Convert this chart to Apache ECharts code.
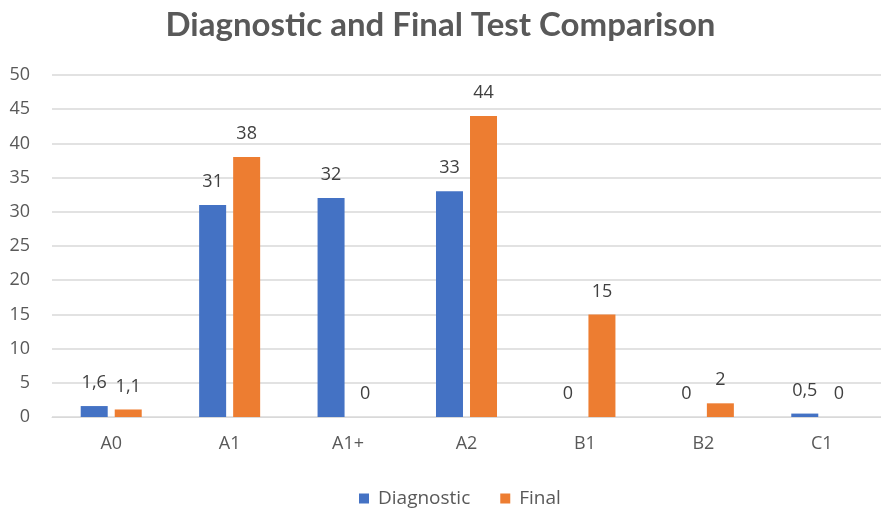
<!DOCTYPE html>
<html>
<head>
<meta charset="utf-8">
<script src="https://cdn.jsdelivr.net/npm/echarts@6/dist/echarts.min.js"></script>
<style>
  html, body { margin: 0; padding: 0; background: #fff; }
  #chart { width: 881px; height: 508px; }
</style>
</head>
<body>
<div id="chart"></div>
<script>
  // data
  const levels = ['A0', 'A1', 'A1+', 'A2', 'B1', 'B2', 'C1']
  const diagnostic = [1.6, 31, 32, 33, 0, 0, 0.5]
  const final = [1.1, 38, 0, 44, 15, 2, 0]
  const yTicks = [0, 5, 10, 15, 20, 25, 30, 35, 40, 45, 50]

  const labelFont = 'Open Sans'
  const textColor = '#595959'

  // decimal comma like the original
  const commaLabel = function (p) {
    return String(p.value).replace('.', ',')
  }

  const chart = echarts.init(document.getElementById('chart'))
  chart.setOption({
    animation: false,
    title: {
      text: 'Diagnostic and Final Test Comparison',
      left: 'center',
      top: 4,
      textStyle: {
        fontFamily: 'Lato',
        fontWeight: 'bold',
        fontSize: 33,
        color: textColor
      }
    },
    legend: {
      top: 484,
      left: 354,
      itemWidth: 10,
      itemHeight: 10,
      itemGap: 30,
      icon: 'rect',
      textStyle: { fontFamily: labelFont, fontSize: 19, color: textColor, padding: [0, 0, 0, 4] },
      data: ['Diagnostic', 'Final']
    },
    grid: {
      left: 52,
      right: -7,
      top: 75,
      bottom: 91
    },
    xAxis: {
      type: 'category',
      data: levels,
      axisLine: { lineStyle: { color: '#d9d9d9' } },
      axisTick: { show: false },
      axisLabel: { fontFamily: labelFont, fontSize: 18, color: textColor, margin: 18 }
    },
    yAxis: {
      type: 'value',
      min: yTicks[0],
      max: yTicks[yTicks.length - 1],
      interval: 5,
      axisLine: { show: false },
      axisTick: { show: false },
      splitLine: { lineStyle: { color: '#d9d9d9', width: 1.5 } },
      axisLabel: { fontFamily: labelFont, fontSize: 18, color: textColor, margin: 22 }
    },
    series: [
      {
        name: 'Diagnostic',
        type: 'bar',
        data: diagnostic,
        barWidth: 27,
        barGap: '26%',
        itemStyle: { color: '#4472C4' },
        label: {
          show: true,
          position: 'top',
          distance: 14,
          fontFamily: labelFont,
          fontSize: 18,
          color: '#404040',
          formatter: commaLabel
        }
      },
      {
        name: 'Final',
        type: 'bar',
        data: final,
        barWidth: 27,
        itemStyle: { color: '#ED7D31' },
        label: {
          show: true,
          position: 'top',
          distance: 14,
          fontFamily: labelFont,
          fontSize: 18,
          color: '#404040',
          formatter: commaLabel
        }
      }
    ]
  })
</script>
</body>
</html>
